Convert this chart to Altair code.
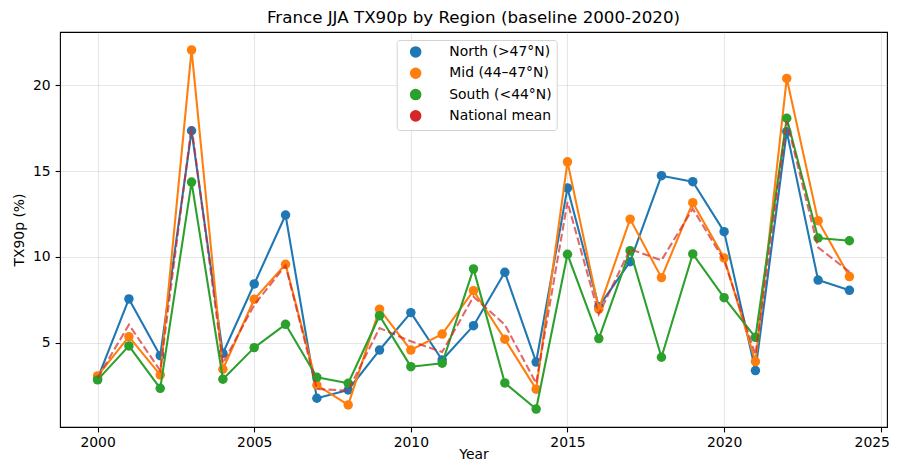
import altair as alt
import pandas as pd

years = list(range(2000, 2025))
north = [2.90, 7.55, 4.24, 17.35, 4.38, 8.42, 12.44, 1.76, 2.24, 4.57, 6.75, 3.99, 5.99,
         9.10, 3.87, 14.02, 7.10, 9.72, 14.73, 14.38, 11.47, 3.37, 17.30, 8.65, 8.05]
mid = [3.06, 5.35, 3.12, 22.06, 3.45, 7.53, 9.57, 2.53, 1.37, 6.95, 4.57, 5.50, 8.03,
       5.20, 2.29, 15.54, 6.95, 12.20, 8.79, 13.16, 9.94, 3.90, 20.40, 12.11, 8.85]
south = [2.83, 4.81, 2.34, 14.36, 2.87, 4.71, 6.07, 2.98, 2.63, 6.57, 3.60, 3.80, 9.30,
         2.65, 1.13, 10.15, 5.24, 10.36, 4.15, 10.17, 7.62, 5.31, 18.08, 11.10, 10.94]
national = [2.95, 6.05, 3.37, 17.60, 3.80, 7.20, 9.50, 2.30, 2.20, 5.85, 5.08, 4.45, 7.68,
            6.05, 2.63, 13.20, 6.65, 10.45, 9.80, 12.80, 9.80, 4.30, 17.90, 10.55, 9.13]

series_names = ["North (>47°N)", "Mid (44–47°N)", "South (<44°N)", "National mean"]
colors = ["#1f77b4", "#ff7f0e", "#2ca02c", "#d62728"]
x_ticks = [2000, 2005, 2010, 2015, 2020, 2025]
y_ticks = [5, 10, 15, 20]
title_text = "France JJA TX90p by Region (baseline 2000-2020)"

rows = []
for name, vals in zip(series_names, [north, mid, south, national]):
    for yr, v in zip(years, vals):
        rows.append({"Year": yr, "Series": name, "Value": v})
df = pd.DataFrame(rows)

all_vals = north + mid + south + national
lo, hi = min(all_vals), max(all_vals)
ypad = 0.05 * (hi - lo)
xpad = 0.05 * (years[-1] - years[0])
y_dom = [lo - ypad, hi + ypad]
x_dom = [years[0] - xpad, years[-1] + xpad]

x_enc = alt.X("Year:Q", scale=alt.Scale(domain=x_dom, nice=False, zero=False),
              axis=alt.Axis(values=x_ticks, format="d", title="Year",
                            labelPadding=3.5, titlePadding=-2,
                            labelOffset={"condition": {"test": "datum.value == 2025", "value": -9},
                                         "value": 0}))
y_enc = alt.Y("Value:Q", scale=alt.Scale(domain=y_dom, nice=False, zero=False),
              axis=alt.Axis(values=y_ticks, title="TX90p (%)",
                            labelPadding=4.9, titlePadding=6))

leg = alt.Legend(orient="none", legendX=336.7, legendY=8,
                 fillColor="white", strokeColor="#d3d3d3", cornerRadius=3,
                 padding=5, labelFont="DejaVu Sans", labelFontSize=13.9,
                 labelColor="black", labelOffset=26.7, symbolOffset=7,
                 symbolSize=90, symbolStrokeWidth=2.08, rowPadding=3.3,
                 labelLimit=300)

color_enc = alt.Color("Series:N", title=None,
                      scale=alt.Scale(domain=series_names, range=colors), legend=leg)

base = alt.Chart(df)
layers = []
for name in series_names[:3]:
    sub = base.transform_filter(alt.datum.Series == name)
    layers.append(sub.mark_line(strokeWidth=2.08, strokeJoin="round").encode(
        x=x_enc, y=y_enc, color=color_enc))
    layers.append(sub.mark_point(filled=True, size=90, opacity=1).encode(
        x=x_enc, y=y_enc, color=color_enc))

layers.append(base.transform_filter(alt.datum.Series == series_names[3]).mark_line(
    strokeWidth=2.08, strokeDash=[7.7, 3.3], opacity=0.7).encode(
    x=x_enc, y=y_enc, color=color_enc))

chart = alt.layer(*layers).properties(
    width=827, height=395,
    title=alt.TitleParams(title_text, fontSize=16.7, font="DejaVu Sans",
                          fontWeight="normal", color="black", anchor="middle",
                          frame="group", offset=5),
    autosize=alt.AutoSizeParams(type="none"),
    padding={"left": 52, "top": 24, "right": 5, "bottom": 36},
).configure_view(stroke="black", strokeWidth=1.1).configure_axis(
    labelFont="DejaVu Sans", labelFontSize=13.9, labelColor="black",
    titleFont="DejaVu Sans", titleFontSize=13.9, titleFontWeight="normal",
    titleColor="black", tickColor="black", tickWidth=1.1, tickSize=4.9,
    domain=False, gridColor="#b0b0b0", gridOpacity=0.3, gridWidth=1.1,
)

chart.save("out.html", embed_options={"renderer": "svg", "actions": False})
